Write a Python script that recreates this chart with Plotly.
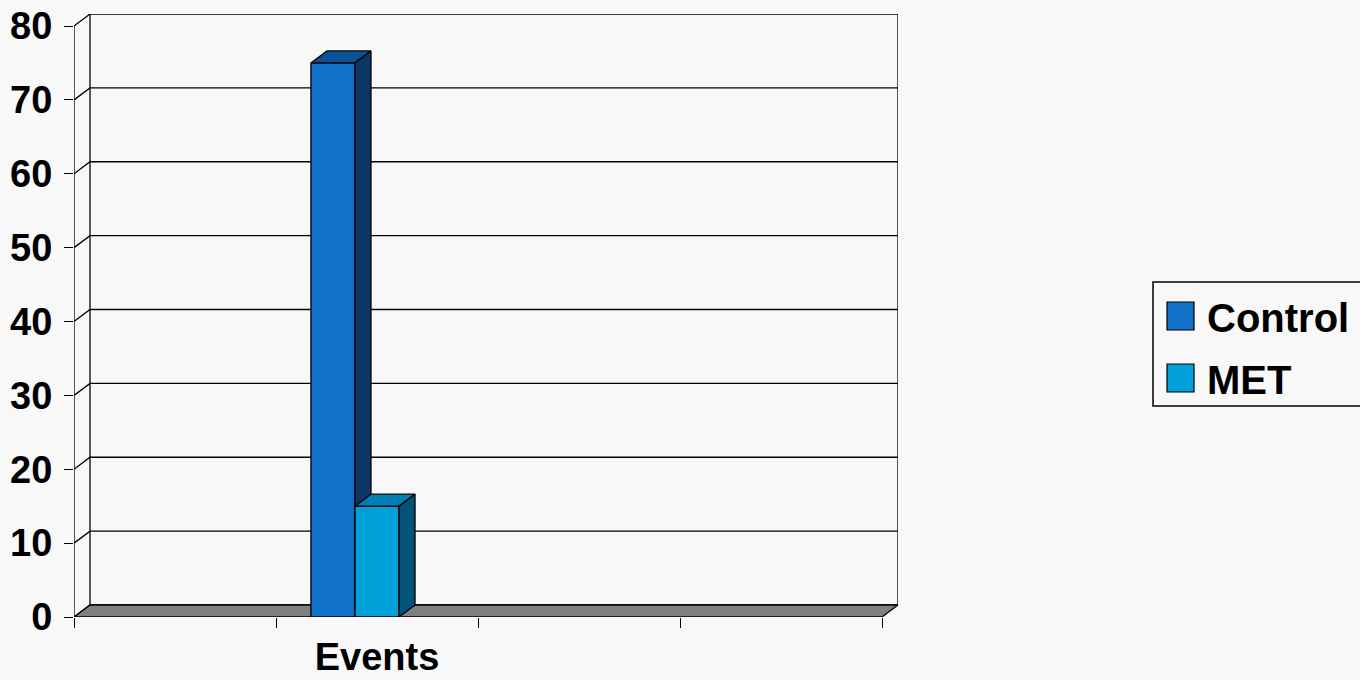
import plotly.graph_objects as go

# ---- data ----
categories = ["", "Events", "", ""]
series_names = ["Control", "MET"]
control_values = [None, 75, None, None]
met_values = [None, 15, None, None]
y_ticks = [0, 10, 20, 30, 40, 50, 60, 70, 80]

# ---- styling ----
front_colors = ["#1170C8", "#00A0DA"]
top_colors = ["#0B5196", "#0080B4"]
side_colors = ["#0A3766", "#005478"]
floor_color = "#808080"
bg_color = "#F8F8F8"
font_family = "Liberation Sans, Arial, sans-serif"

W, H = 1360, 680
L, R, T, B = 74, 462, 14, 63
plot_w = W - L - R
plot_h = H - T - B

n_cat = len(categories)
cat_px = 202.0                      # pixel width of one category on the front plane
DX = 16.0 / cat_px                  # depth offset in category units
y_max = y_ticks[-1]
y_top = y_max + 12.0 / (plot_h / (y_max + 1.62))  # room for the back wall above 80
px_per_unit = plot_h / y_top
DY = 12.0 / px_per_unit             # depth offset in value units

BAR_W = 0.218
GROUP_LEFT = 0.173


def px_to_paper_x(px):
    return (px - L) / plot_w


def px_to_paper_y(py):
    return (H - B - py) / plot_h


fig = go.Figure()


def add_poly(xs, ys, fill=None, width=1.3, color="black"):
    fig.add_trace(go.Scatter(
        x=xs, y=ys, mode="lines",
        fill="toself" if fill else None,
        fillcolor=fill,
        line=dict(color=color, width=width),
        hoverinfo="skip", showlegend=False,
    ))


# back wall gridlines and side-wall diagonals
gx, gy = [], []
for v in y_ticks:
    gx += [0, DX, n_cat + DX, None]
    gy += [v, v + DY, v + DY, None]
add_poly(gx, gy)

# wall edges and front value axis
add_poly([DX, DX, None, n_cat + DX, n_cat + DX, None, 0, 0],
         [DY, y_max + DY, None, DY, y_max + DY, None, 0, y_max])

# floor
add_poly([0, n_cat, n_cat + DX, DX, 0], [0, 0, DY, DY, 0], fill=floor_color)

# 3D bars: front, top and side faces for each series
all_values = [control_values, met_values]
for ci in range(n_cat):
    for si, vals in enumerate(all_values):
        v = vals[ci]
        if v is None:
            continue
        x0 = ci + GROUP_LEFT + si * BAR_W
        x1 = x0 + BAR_W
        add_poly([x0, x1, x1, x0, x0], [0, 0, v, v, 0], fill=front_colors[si])
        add_poly([x0, x1, x1 + DX, x0 + DX, x0], [v, v, v + DY, v + DY, v], fill=top_colors[si])
        add_poly([x1, x1 + DX, x1 + DX, x1, x1], [0, DY, v + DY, v, 0], fill=side_colors[si])

axis_font = dict(family=font_family, size=38, color="black", weight="bold")

fig.update_layout(
    width=W, height=H,
    margin=dict(l=L, r=R, t=T, b=B, pad=0, autoexpand=False),
    paper_bgcolor=bg_color,
    plot_bgcolor="rgba(0,0,0,0)",
    showlegend=False,
    xaxis=dict(
        range=[0, n_cat + DX],
        automargin=False,
        showgrid=False, zeroline=False, showline=False,
        tickmode="array",
        tickvals=[i + 0.5 for i in range(n_cat)],
        ticktext=categories,
        ticks="",
        tickfont=axis_font,
        ticklabelstandoff=14,
        minor=dict(tickmode="array", tickvals=list(range(n_cat + 1)),
                   ticks="outside", ticklen=10, tickwidth=1.3, tickcolor="black",
                   showgrid=False),
        fixedrange=True,
    ),
    yaxis=dict(
        range=[0, y_top],
        automargin=False,
        showgrid=False, zeroline=False, showline=False,
        tickmode="array", tickvals=y_ticks,
        ticks="outside", ticklen=9, tickwidth=1.3, tickcolor="black",
        tickfont=axis_font,
        ticklabelstandoff=4,
        fixedrange=True,
    ),
)

# legend box
fig.add_shape(type="rect", xref="paper", yref="paper",
              x0=px_to_paper_x(1153), x1=px_to_paper_x(1366),
              y0=px_to_paper_y(406), y1=px_to_paper_y(282),
              line=dict(color="black", width=1.5), fillcolor="rgba(0,0,0,0)")
legend_rows = [316, 378]
for si, name in enumerate(series_names):
    cy = legend_rows[si]
    fig.add_shape(type="rect", xref="paper", yref="paper",
                  x0=px_to_paper_x(1167), x1=px_to_paper_x(1194),
                  y0=px_to_paper_y(cy + 14), y1=px_to_paper_y(cy - 14),
                  line=dict(color="black", width=1.2), fillcolor=front_colors[si])
    fig.add_annotation(xref="paper", yref="paper",
                       x=px_to_paper_x(1205), y=px_to_paper_y(cy + 2),
                       xanchor="left", yanchor="middle", showarrow=False,
                       text=name,
                       font=dict(family=font_family, size=40, color="black", weight="bold"))

fig.write_html("out.html")
